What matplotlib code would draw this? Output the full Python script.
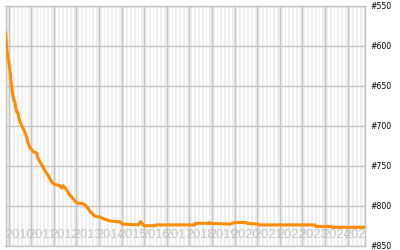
import pandas as pd
import numpy as np
import matplotlib.pyplot as plt
import matplotlib.dates as mdates

# rank over time (lower number = better)
dates = ["2009-11-13", "2009-11-20", "2009-12-03", "2009-12-19", "2010-01-05",
         "2010-01-21", "2010-02-07", "2010-02-23", "2010-03-11", "2010-03-27",
         "2010-04-12", "2010-04-28", "2010-05-14", "2010-06-04", "2010-06-16",
         "2010-07-13", "2010-08-03", "2010-09-21", "2010-10-23", "2010-11-13",
         "2010-12-10", "2011-01-07", "2011-02-14", "2011-03-29", "2011-04-19",
         "2011-05-21", "2011-07-13", "2011-08-26", "2011-10-02", "2011-11-26",
         "2012-01-02", "2012-02-15", "2012-04-09", "2012-05-11", "2012-06-01",
         "2012-07-26", "2012-09-17", "2012-10-15", "2012-12-07", "2013-01-25",
         "2013-03-31", "2013-05-18", "2013-07-05", "2013-08-07", "2013-09-03",
         "2013-10-26", "2013-12-14", "2014-01-15", "2014-04-05", "2014-06-25",
         "2014-10-12", "2014-12-04", "2015-01-16", "2015-09-26", "2015-11-03",
         "2015-12-27", "2016-06-22", "2016-07-08", "2018-03-30", "2018-04-10",
         "2018-10-31", "2018-11-11", "2018-11-27", "2019-10-17", "2020-01-05",
         "2020-07-01", "2020-07-13", "2021-01-16", "2021-02-01", "2023-07-21",
         "2023-08-07", "2024-04-16", "2024-05-02", "2025-10-22"]
rank = [582, 590, 605, 615, 620,
        630, 643, 653, 662, 668,
        670, 678, 683, 684, 690,
        697, 700, 708, 715, 722,
        727, 730, 733, 734, 740,
        745, 752, 758, 762, 770,
        773, 774, 775, 778, 775,
        780, 787, 789, 794, 797,
        797, 799, 803, 807, 809,
        813, 814, 814, 817, 819,
        820, 820, 823, 824, 820,
        825, 825, 824, 824, 822,
        822, 821, 822, 823, 821,
        821, 822, 823, 824, 824,
        826, 826, 827, 827]
years = list(range(2010, 2026))
yticks = [550, 600, 650, 700, 750, 800, 850]

t = pd.to_datetime(dates)

fig = plt.figure(figsize=(4, 2.5), dpi=100)
ax = fig.add_axes([5.5 / 400, 4.3 / 250, 359.5 / 400, 240 / 250])
ax.set_facecolor('#efefef')

x0 = pd.Timestamp("2009-11-12")
x1 = pd.Timestamp("2025-10-07")
ax.set_xlim(x0, x1)
ax.set_ylim(850, 550)

# white stripes every two months, gray line at each new year
for y in range(2009, 2026):
    for m in (3, 5, 7, 9, 11):
        ax.axvline(pd.Timestamp(y, m, 1), color='white', lw=1.4, zorder=0.5)
    ax.axvline(pd.Timestamp(y, 1, 1), color='#c4c4c4', lw=1.0, zorder=0.6)
for v in yticks:
    ax.axhline(v, color='#c4c4c4', lw=1.0, zorder=0.6)

# year names inside the plot, near the bottom (they overlap, as in the original)
for y in years:
    ax.text(pd.Timestamp(y, 7, 2), 837, str(y), ha='center', va='center',
            color='#c2c2c2', fontsize=9.2, family='Liberation Sans',
            zorder=1, clip_on=True)

ax.plot(t, rank, color='#ff8c00', lw=2.2, zorder=3, solid_capstyle='butt')

ax.yaxis.tick_right()
ax.set_yticks(yticks)
ax.set_yticklabels(['#%d' % v for v in yticks], fontsize=5.6, color='black')
ax.tick_params(axis='y', length=0, pad=4)
ax.set_xticks([])
for s in ax.spines.values():
    s.set_color('#c4c4c4')
    s.set_linewidth(1.0)

fig.savefig('out.png', dpi=100)
